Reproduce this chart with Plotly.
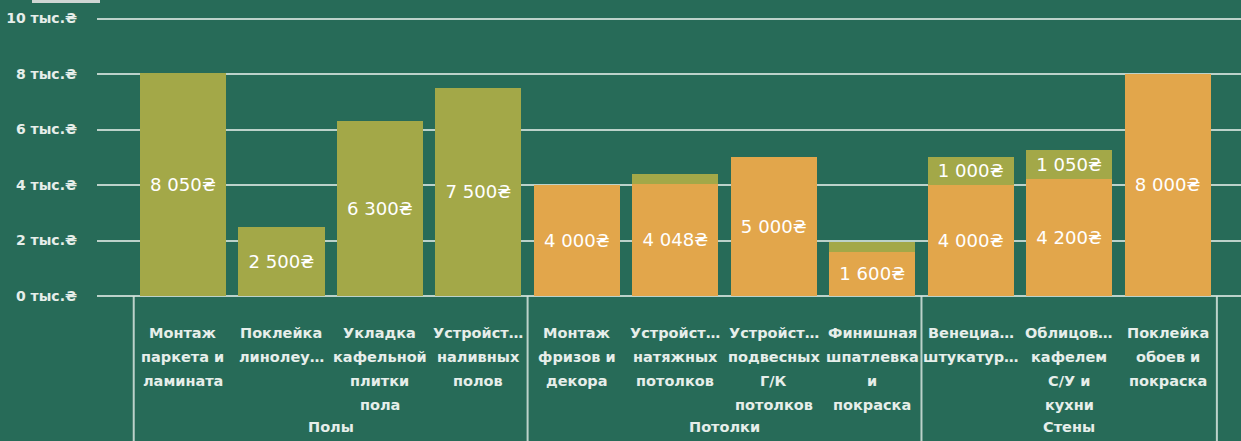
import plotly.graph_objects as go

# Work categories, grouped by room surface
groups = ["Полы", "Потолки", "Стены"]
group_sizes = [4, 4, 3]
category_lines = [
    ["Монтаж", "паркета и", "ламината"],
    ["Поклейка", "линолеу…"],
    ["Укладка", "кафельной", "плитки", "пола"],
    ["Устройст…", "наливных", "полов"],
    ["Монтаж", "фризов и", "декора"],
    ["Устройст…", "натяжных", "потолков"],
    ["Устройст…", "подвесных", "Г/К", "потолков"],
    ["Финишная", "шпатлевка", "и", "покраска"],
    ["Венециа…", "штукатур…"],
    ["Облицов…", "кафелем", "С/У и", "кухни"],
    ["Поклейка", "обоев и", "покраска"],
]

# Cost components, hryvnia
orange_values = [0, 0, 0, 0, 4000, 4048, 5000, 1600, 4000, 4200, 8000]
olive_values = [8050, 2500, 6300, 7500, 0, 350, 0, 350, 1000, 1050, 0]
label_min = 900  # segments smaller than this get no label

y_ticks = [0, 2000, 4000, 6000, 8000, 10000]
y_tick_text = ["0 тыс.₴", "2 тыс.₴", "4 тыс.₴", "6 тыс.₴", "8 тыс.₴", "10 тыс.₴"]

BG = "#276B58"
OLIVE = "#A3A848"
ORANGE = "#E2A64B"
GRID = "rgba(215,228,222,0.85)"
TEXT = "#E6EEEA"
FONT = "DejaVu Sans"


def fmt(v):
    return f"{v:,}".replace(",", " ") + "₴" if v >= label_min else ""


x = list(range(len(category_lines)))

label_font = dict(color="white", size=20, family=FONT)
fig = go.Figure()
fig.add_bar(
    x=x, y=orange_values, marker_color=ORANGE, marker_line_width=0,
    text=[fmt(v) for v in orange_values], textposition="inside",
    insidetextanchor="middle", textangle=0, textfont=label_font,
    hoverinfo="skip", showlegend=False,
)
fig.add_bar(
    x=x, y=olive_values, marker_color=OLIVE, marker_line_width=0,
    text=[fmt(v) for v in olive_values], textposition="inside",
    insidetextanchor="middle", textangle=0, textfont=label_font,
    hoverinfo="skip", showlegend=False,
)

W, H = 1241, 441
ML, MT, MB = 97, 12, 145
plot_h = H - MT - MB
y_top = 10000 * plot_h / 277.5

fig.update_layout(
    width=W, height=H,
    margin=dict(l=ML, r=0, t=MT, b=MB),
    paper_bgcolor=BG, plot_bgcolor=BG,
    barmode="stack", bargap=0.125,
    font=dict(family=FONT, color=TEXT),
    xaxis=dict(range=[-0.873, 10.745], showticklabels=False, showgrid=False,
               zeroline=False, fixedrange=True),
    yaxis=dict(range=[0, y_top], tickvals=y_ticks, ticktext=y_tick_text,
               showgrid=True, gridcolor=GRID, gridwidth=2,
               zeroline=True, zerolinecolor=GRID, zerolinewidth=2,
               tickfont=dict(size=14, color=TEXT, family=FONT, weight="bold"),
               ticklabelstandoff=19, fixedrange=True),
    uniformtext=dict(minsize=10, mode="show"),
)


def py_to_paper(py):
    return (H - MB - py) / plot_h


cat_font = dict(size=14.5, color=TEXT, family=FONT, weight="bold")

# category labels under the bars, one line per annotation
line_y = [333, 357, 381, 405]
for i, lines in enumerate(category_lines):
    for k, line in enumerate(lines):
        fig.add_annotation(
            x=i, xref="x", y=py_to_paper(line_y[k]), yref="paper",
            text=line, showarrow=False, yanchor="middle", xanchor="center",
            font=cat_font,
        )

# group labels and separators
start = 0
for g, size in zip(groups, group_sizes):
    center = start + (size - 1) / 2
    fig.add_annotation(
        x=center, xref="x", y=py_to_paper(427), yref="paper",
        text=g, showarrow=False, yanchor="middle", font=cat_font,
    )
    start += size

bounds = [-0.5]
acc = -0.5
for size in group_sizes:
    acc += size
    bounds.append(acc)
for b in bounds:
    fig.add_shape(
        type="line", xref="x", yref="paper", x0=b, x1=b,
        y0=0, y1=py_to_paper(H + 5), line=dict(color=GRID, width=2),
    )

# small tab peeking in at the top edge
fig.add_shape(
    type="rect", xref="paper", yref="paper",
    x0=(32 - ML) / (W - ML), x1=(100 - ML) / (W - ML),
    y0=py_to_paper(3), y1=py_to_paper(-6),
    fillcolor="#CFD6D3", line_width=0,
)

fig.write_html("out.html")
